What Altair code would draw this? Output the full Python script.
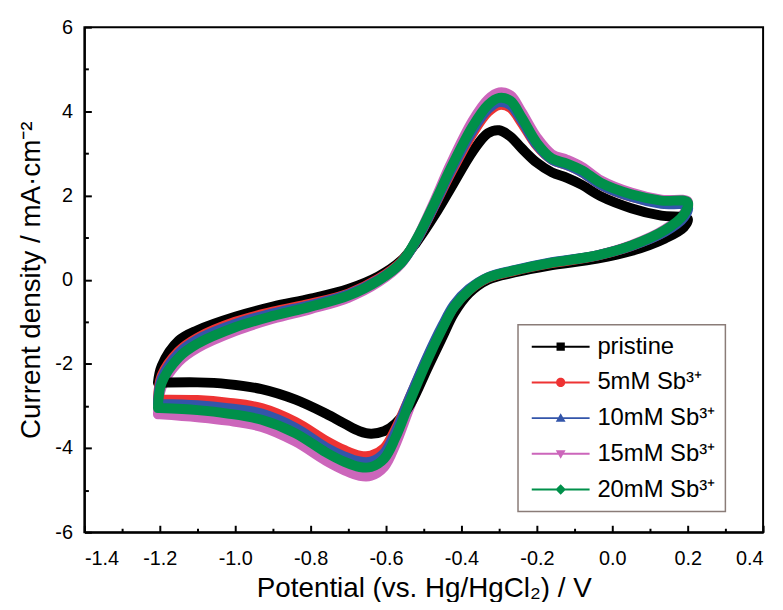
import altair as alt
import pandas as pd

# ---- data (potential in V, current density in mA/cm2) ----
series_names = ["pristine", "5mM Sb³⁺", "10mM Sb³⁺", "15mM Sb³⁺", "20mM Sb³⁺"]
series_colors = ["#000000", "#ee3333", "#3355aa", "#cc66bb", "#00904a"]

# common potential path: anodic sweep -1.2 -> 0.2, then cathodic sweep back
potential = [
    -1.205, -1.195, -1.15, -1.10, -1.00, -0.90, -0.80, -0.70, -0.62, -0.56,
    -0.52, -0.47, -0.43, -0.37, -0.33, -0.30, -0.27, -0.24, -0.20, -0.16,
    -0.12, -0.08, -0.03, 0.05, 0.13, 0.20,
    0.19, 0.14, 0.05, -0.04, -0.17, -0.26, -0.33, -0.38, -0.42, -0.45,
    -0.49, -0.535, -0.575, -0.605, -0.64, -0.67, -0.71, -0.76, -0.84, -0.93,
    -1.02, -1.10, -1.20,
]

j_pristine = [
    -2.45, -2.05, -1.45, -1.20, -0.88, -0.64, -0.45, -0.22, 0.08, 0.45,
    0.88, 1.55, 2.15, 3.05, 3.48, 3.55, 3.40, 3.12, 2.78, 2.55,
    2.42, 2.25, 1.98, 1.70, 1.52, 1.45,
    1.25, 0.98, 0.68, 0.50, 0.33, 0.17, 0.00, -0.32, -0.80, -1.35,
    -2.10, -2.95, -3.42, -3.60, -3.66, -3.60, -3.42, -3.18, -2.85, -2.60,
    -2.48, -2.44, -2.45,
]
j_5mM = [
    -2.85, -2.28, -1.70, -1.38, -1.00, -0.76, -0.57, -0.33, 0.02, 0.42,
    0.92, 1.78, 2.50, 3.48, 3.98, 4.15, 4.08, 3.72, 3.18, 2.85,
    2.72, 2.55, 2.25, 1.97, 1.82, 1.80,
    1.52, 1.15, 0.80, 0.57, 0.38, 0.21, 0.04, -0.25, -0.64, -1.12,
    -1.85, -2.75, -3.55, -4.00, -4.18, -4.18, -4.05, -3.82, -3.38, -3.05,
    -2.92, -2.86, -2.85,
]
j_10mM = [
    -2.95, -2.35, -1.75, -1.42, -1.05, -0.80, -0.60, -0.35, 0.00, 0.40,
    0.92, 1.80, 2.55, 3.55, 4.05, 4.22, 4.15, 3.78, 3.20, 2.85,
    2.72, 2.55, 2.25, 1.97, 1.80, 1.75,
    1.48, 1.14, 0.80, 0.58, 0.40, 0.23, 0.06, -0.22, -0.60, -1.08,
    -1.82, -2.75, -3.62, -4.12, -4.32, -4.32, -4.20, -3.98, -3.52, -3.18,
    -3.05, -2.98, -2.95,
]
j_15mM = [
    -3.20, -2.55, -1.95, -1.62, -1.22, -0.93, -0.70, -0.43, -0.06, 0.38,
    0.95, 1.90, 2.72, 3.78, 4.28, 4.45, 4.38, 3.98, 3.38, 2.98,
    2.85, 2.68, 2.36, 2.07, 1.90, 1.86,
    1.58, 1.20, 0.82, 0.58, 0.38, 0.20, 0.02, -0.30, -0.72, -1.25,
    -2.00, -2.98, -3.92, -4.45, -4.66, -4.66, -4.53, -4.30, -3.85, -3.50,
    -3.35, -3.27, -3.20,
]
j_20mM = [
    -3.05, -2.45, -1.85, -1.52, -1.13, -0.86, -0.64, -0.38, -0.02, 0.40,
    0.95, 1.85, 2.62, 3.65, 4.15, 4.32, 4.25, 3.85, 3.25, 2.88,
    2.76, 2.60, 2.30, 2.03, 1.88, 1.84,
    1.55, 1.18, 0.81, 0.58, 0.39, 0.22, 0.05, -0.25, -0.65, -1.15,
    -1.90, -2.85, -3.75, -4.25, -4.45, -4.45, -4.33, -4.10, -3.65, -3.33,
    -3.18, -3.10, -3.05,
]
currents = [j_pristine, j_5mM, j_10mM, j_15mM, j_20mM]
draw_order = [3, 0, 1, 2, 4]  # pink underneath, green on top

x_ticks = [round(-1.4 + 0.1 * k, 1) for k in range(19)]
y_ticks = list(range(-6, 7))

# legend symbols: short line + marker (square, circle, up-triangle, down-triangle, diamond)
_line = "M-2.65,-0.09 L2.65,-0.09 L2.65,0.09 L-2.65,0.09 Z "
legend_shapes = [
    _line + "M-0.38,-0.38 L0.38,-0.38 L0.38,0.38 L-0.38,0.38 Z",
    _line + "M0.42,0 A0.42,0.42 0 1,1 -0.42,0 A0.42,0.42 0 1,1 0.42,0 Z",
    _line + "M0,-0.45 L0.45,0.33 L-0.45,0.33 Z",
    _line + "M0,0.45 L-0.45,-0.33 L0.45,-0.33 Z",
    _line + "M0,-0.48 L0.48,0 L0,0.48 L-0.48,0 Z",
]

rows = []
for s in draw_order:
    for i, (e, j) in enumerate(zip(potential, currents[s])):
        rows.append({"series": series_names[s], "i": i, "E": e, "J": j})
df = pd.DataFrame(rows)

FONT = "Liberation Sans"

xscale = alt.Scale(domain=[-1.4, 0.4], nice=False, zero=False)
yscale = alt.Scale(domain=[-6, 6], nice=False, zero=False)
cscale = alt.Scale(domain=series_names, range=series_colors)

x_minor = "abs(round(datum.value*10)) % 2 == 1"
y_minor = "abs(round(datum.value)) % 2 == 1"

x_axis = alt.Axis(
    values=x_ticks,
    title="Potential (vs. Hg/HgCl₂) / V",
    labelExpr=f"({x_minor}) ? '' : ((datum.value < -0.001 ? '-' : '') + format(abs(datum.value), '.1f'))",
    tickSize=alt.ExprRef("-7"),
    tickDash={"condition": {"test": x_minor, "value": [4, 20]}, "value": []},
    labelPadding=24,
    titlePadding=6,
    grid=False,
)
y_axis = alt.Axis(
    values=y_ticks,
    title="Current density / mA·cm⁻²",
    labelExpr=f"({y_minor}) ? '' : ((datum.value < 0 ? '-' : '') + format(abs(datum.value), 'd'))",
    tickSize=alt.ExprRef("-7"),
    tickDash={"condition": {"test": y_minor, "value": [4, 20]}, "value": []},
    labelPadding=19,
    titlePadding=9,
    grid=False,
)

legend_def = alt.Legend(title=None)

# invisible point layer that carries the legend (colour + marker shape)
legend_layer = alt.Chart(df).mark_point(filled=True, size=484, opacity=0).encode(
    x=alt.X("E:Q", scale=xscale, axis=x_axis),
    y=alt.Y("J:Q", scale=yscale, axis=y_axis),
    color=alt.Color("series:N", scale=cscale, legend=legend_def),
    shape=alt.Shape("series:N", scale=alt.Scale(domain=series_names, range=legend_shapes),
                    legend=legend_def),
)

lines = alt.Chart(df).mark_line(
    strokeWidth=10, strokeCap="round", strokeJoin="round", interpolate="catmull-rom"
).encode(
    x=alt.X("E:Q", scale=xscale, axis=x_axis),
    y=alt.Y("J:Q", scale=yscale, axis=y_axis),
    color=alt.Color("series:N", scale=cscale, legend=legend_def),
    order=alt.Order("i:Q"),
)

chart = alt.layer(legend_layer, lines).properties(
    width=684,
    height=509,
    autosize=alt.AutoSizeParams(type="none"),
    padding={"left": 77, "top": 17, "right": 12, "bottom": 68},
).configure_view(
    stroke="#000000", strokeWidth=2
).configure_axis(
    domainColor="#000000", domainWidth=2, tickColor="#000000", tickWidth=2,
    labelFont=FONT, labelFontSize=20, labelColor="#000000",
    titleFont=FONT, titleFontSize=28, titleFontWeight="normal", titleColor="#000000",
).configure_legend(
    orient="none", legendX=437, legendY=300, direction="vertical",
    padding=10, strokeColor="#8a7c78", strokeWidth=1.5, fillColor="#ffffff",
    labelFont=FONT, labelFontSize=24, labelColor="#000000",
    symbolOffset=21, labelOffset=25,
    symbolSize=484, symbolStrokeWidth=0, symbolOpacity=1, rowPadding=12, cornerRadius=0,
)

chart.save("out.html", embed_options={"renderer": "svg", "actions": False})
